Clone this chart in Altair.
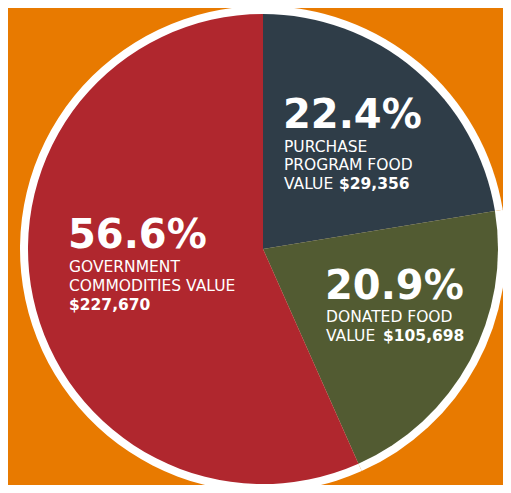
import altair as alt
import pandas as pd

# ---- data ----
categories = ["Purchase Program Food", "Donated Food", "Government Commodities"]
percents = [22.4, 20.9, 56.6]
dollar_values = ["$29,356", "$105,698", "$227,670"]
order_idx = [0, 1, 2]
slice_colors = ["#2F3D48", "#525B32", "#B0272E"]

line_texts = {
    "Purchase Program Food": ["PURCHASE", "PROGRAM FOOD", "VALUE"],
    "Donated Food": ["DONATED FOOD", "VALUE"],
    "Government Commodities": ["GOVERNMENT", "COMMODITIES VALUE"],
}

BG = "#E87A00"
OFF = 8  # page margin

df = pd.DataFrame({
    "category": categories,
    "pct": percents,
    "order": order_idx,
    "label": [f"{p}%" for p in percents],
    "money": dollar_values,
})

CX, CY = 263 - OFF, 249 - OFF

# white rim: same stacked values, drawn full circle in white
ring = alt.Chart(df).mark_arc(color="white", radius=243).encode(
    theta=alt.Theta("pct:Q", stack=True),
    order=alt.Order("order:Q", sort="ascending"),
    x=alt.value(CX), y=alt.value(CY),
)

pie = alt.Chart(df).mark_arc(radius=235).encode(
    theta=alt.Theta("pct:Q", stack=True),
    order=alt.Order("order:Q", sort="ascending"),
    color=alt.Color("category:N",
                    scale=alt.Scale(domain=categories, range=slice_colors),
                    legend=None),
    x=alt.value(CX),
    y=alt.value(CY),
)

BIG = dict(font="DejaVu Sans", fontWeight="bold", fontSize=40, color="white",
           align="left", baseline="alphabetic")
SMALL = dict(font="DejaVu Sans", fontWeight="normal", fontSize=15.5, color="white",
             align="left", baseline="alphabetic")
MONEY = dict(font="DejaVu Sans", fontWeight="bold", fontSize=15.5, color="white",
             align="left", baseline="alphabetic")


def row(cat):
    return df[df["category"] == cat]


def text_layer(cat, field, style, x, y):
    return alt.Chart(row(cat)).mark_text(**style).encode(
        text=alt.Text(f"{field}:N"), x=alt.value(x - OFF), y=alt.value(y - OFF)
    )


def line_layer(txt, style, x, y):
    return alt.Chart(pd.DataFrame({"t": [txt]})).mark_text(**style).encode(
        text="t:N", x=alt.value(x - OFF), y=alt.value(y - OFF)
    )


layers = [ring, pie]

# Purchase program block
c = "Purchase Program Food"
layers.append(text_layer(c, "label", BIG, 283, 127.5))
ys = [151.5, 170, 188.5]
for t, y in zip(line_texts[c], ys):
    layers.append(line_layer(t, SMALL, 284, y))
layers.append(text_layer(c, "money", MONEY, 339, 188.5))

# Government block
c = "Government Commodities"
layers.append(text_layer(c, "label", BIG, 68, 247.5))
ys = [271.5, 290.5]
for t, y in zip(line_texts[c], ys):
    layers.append(line_layer(t, SMALL, 69, y))
layers.append(text_layer(c, "money", MONEY, 69, 310))

# Donated block
c = "Donated Food"
layers.append(text_layer(c, "label", BIG, 325, 298.5))
ys = [322, 341]
for t, y in zip(line_texts[c], ys):
    layers.append(line_layer(t, SMALL, 326, y))
layers.append(text_layer(c, "money", MONEY, 383, 341))

chart = alt.layer(*layers).properties(
    width=495, height=477, padding=0,
    autosize=alt.AutoSizeParams(type="none"),
    background=BG,
).configure_view(stroke=None)

chart.save("out.html", embed_options={"renderer": "svg", "actions": False})
